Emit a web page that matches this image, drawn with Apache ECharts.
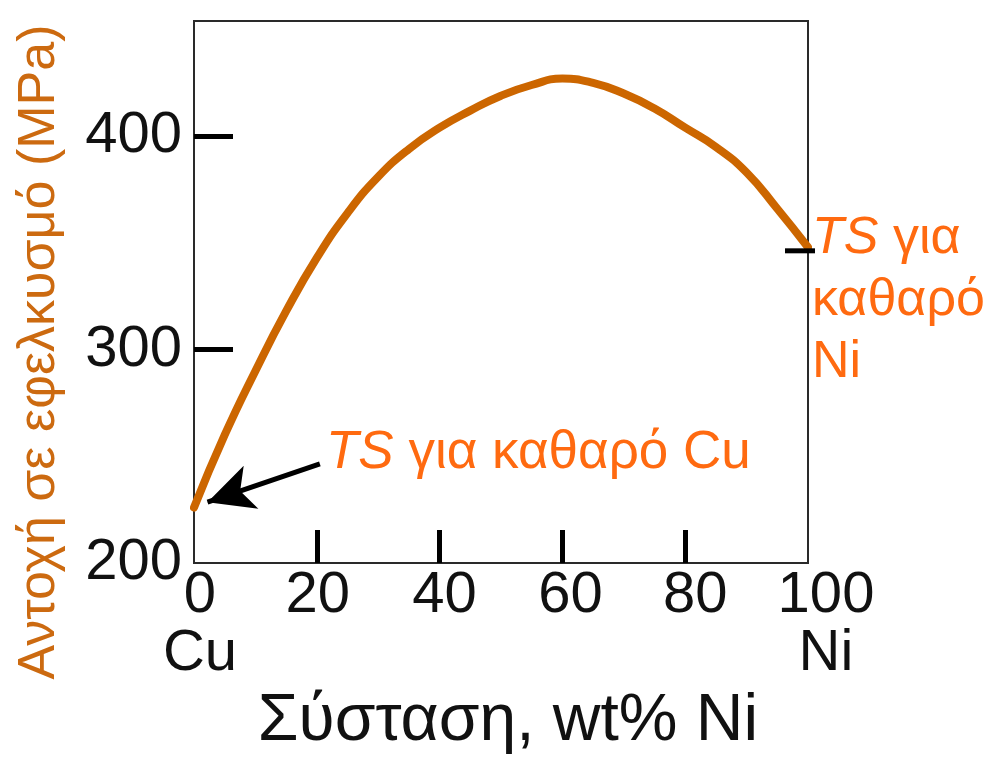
<!DOCTYPE html>
<html>
<head>
<meta charset="utf-8">
<script src="https://cdn.jsdelivr.net/npm/echarts@6/dist/echarts.min.js"></script>
<style>
html,body{margin:0;padding:0;background:#fff;}
#chart{width:992px;height:762px;}
</style>
</head>
<body>
<div id="chart"></div>
<script>
// Composition, wt% Ni
const niContent = [0, 5, 10, 15, 20, 25, 30, 35, 40, 45, 50, 55, 60, 65, 70, 75, 80, 85, 90, 95, 100];
// Tensile strength, MPa
const tensileStrength = [226, 260, 290, 318, 343, 364, 381, 394, 404, 412, 419, 424, 427, 425, 420, 413, 404, 395, 383, 366, 348];
const yTickValues = [300, 400];
const yLabelValues = [200, 300, 400];
const xTickValues = [20, 40, 60, 80];
const xLabelValues = [0, 20, 40, 60, 80, 100];
const xEndNames = {0: 'Cu', 100: 'Ni'};
const yTitle = 'Αντοχή σε εφελκυσμό (MPa)';
const xTitle = 'Σύσταση, wt% Ni';
const cuNote = ['TS', ' για καθαρό Cu'];
const niNote = ['TS', ' για', 'καθαρό', 'Ni'];
// arrow from the Cu note to the pure-Cu value (data coords)
const cuArrow = [[20.5, 246.5], [2.2, 228.5]];
// marker of the pure-Ni value on the right edge (data coords)
const niMarkerValue = [100, 346.3];

const FONT = 'Liberation Sans, Arial, sans-serif';
const ORANGE = '#FF6A10';
const CURVE = '#CC6600';
// label nudges (px) so the hand-drawn tick labels sit as in the figure
const labelShift = {0: 6, 20: 1, 40: 5, 60: 8, 80: 10, 100: 18};

const chart = echarts.init(document.getElementById('chart'));
chart.setOption({
  animation: false,
  backgroundColor: '#fff',
  grid: {
    left: 194, top: 21, right: 184, bottom: 199,
    show: true, borderColor: '#2a2a2a', borderWidth: 2, backgroundColor: 'transparent'
  },
  xAxis: {
    type: 'value', min: 0, max: 100,
    axisLine: {show: false},
    splitLine: {show: false},
    axisTick: {show: true, inside: true, length: 33, customValues: xTickValues,
      lineStyle: {color: '#000', width: 5}},
    axisLabel: {
      customValues: xLabelValues,
      margin: 4,
      fontSize: 58, fontFamily: FONT, color: '#111', lineHeight: 58,
      formatter: v => {
        const s = 's' + (labelShift[v] || 0);
        return xEndNames[v] !== undefined
          ? '{' + s + '|' + v + '}\n{' + s + '|' + xEndNames[v] + '}'
          : '{' + s + '|' + v + '}';
      },
      rich: Object.fromEntries(Object.values(labelShift).map(d =>
        ['s' + d, {fontSize: 58, fontFamily: FONT, color: '#111', lineHeight: 58, padding: [0, 0, 0, 2 * d]}]))
    }
  },
  yAxis: {
    type: 'value', min: 200, max: 454,
    axisLine: {show: false},
    splitLine: {show: false},
    axisTick: {show: true, inside: true, length: 39, customValues: yTickValues,
      lineStyle: {color: '#000', width: 5}},
    axisLabel: {
      customValues: yLabelValues,
      margin: 12,
      fontSize: 58, fontFamily: FONT, color: '#111'
    }
  },
  series: [{
    type: 'line',
    data: niContent.map((x, i) => [x, tensileStrength[i]]),
    smooth: 0.5,
    symbol: 'none',
    clip: false,
    z: 2,
    lineStyle: {color: CURVE, width: 8, cap: 'round'},
    markLine: {
      silent: true,
      animation: false,
      z: 3,
      label: {show: false},
      emphasis: {disabled: true},
      data: [
        [{coord: cuArrow[0], symbol: 'none'},
         {coord: cuArrow[1], symbol: 'arrow', symbolSize: [34, 46]}]
      ],
      lineStyle: {color: '#000', width: 5, type: 'solid'}
    }
  }],
  graphic: [
    {
      type: 'text', x: 40, y: 352, rotation: Math.PI / 2,
      style: {text: yTitle, font: '52px ' + FONT, fill: '#CC6A10',
        align: 'center', verticalAlign: 'middle'}
    },
    {
      type: 'text', x: 508, y: 722,
      style: {text: xTitle, font: '66px ' + FONT, fill: '#111',
        align: 'center', verticalAlign: 'middle'}
    },
    {
      type: 'text', x: 326, y: 453,
      style: {
        text: '{i|' + cuNote[0] + '}{n|' + cuNote[1] + '}',
        align: 'left', verticalAlign: 'middle',
        rich: {
          i: {fontStyle: 'italic', fontSize: 53, fontFamily: FONT, fill: ORANGE},
          n: {fontSize: 53, fontFamily: FONT, fill: ORANGE}
        }
      }
    },
    {
      type: 'text', x: 812, y: 208,
      style: {
        text: '{i|' + niNote[0] + '}{n|' + niNote[1] + '}\n{n|' + niNote[2] + '}\n{n|' + niNote[3] + '}',
        align: 'left', verticalAlign: 'top',
        rich: {
          i: {fontStyle: 'italic', fontSize: 52, fontFamily: FONT, fill: ORANGE, lineHeight: 62},
          n: {fontSize: 52, fontFamily: FONT, fill: ORANGE, lineHeight: 62}
        }
      }
    }
  ]
});

// short tick crossing the right edge at the pure-Ni value, placed through the axes
const p = chart.convertToPixel({gridIndex: 0}, niMarkerValue);
chart.setOption({
  graphic: [{
    type: 'line', id: 'niMarker', z: 50,
    shape: {x1: p[0] - 23, y1: p[1], x2: p[0] + 7, y2: p[1]},
    style: {stroke: '#000', lineWidth: 5}
  }]
});
</script>
</body>
</html>
